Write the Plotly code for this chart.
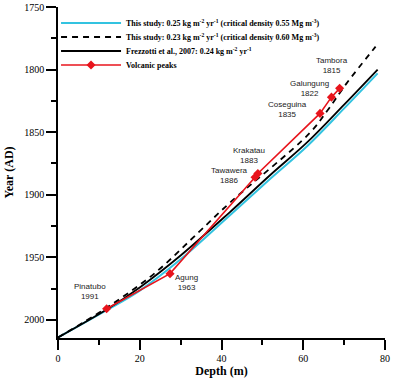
import plotly.graph_objects as go

# Depth (m) vs year (AD) series
cyan_depth = [0, 12, 20, 30, 42, 52, 61, 70, 78.2]
cyan_year = [2014, 1992, 1976.5, 1951.5, 1916.5, 1887, 1861, 1831, 1803]

dash_depth = [0, 12, 23.7, 34.7, 42, 61.6, 66.0, 70.6, 77.7]
dash_year = [2014, 1990, 1962.5, 1929, 1906.5, 1850.6, 1832.3, 1811, 1781.7]

black_depth = [0, 12, 20, 30, 42, 52, 61, 70, 78.2]
black_year = [2014, 1991.5, 1974, 1948.5, 1914, 1884, 1858, 1828, 1800]

volc_names = ["Pinatubo", "Agung", "Tawawera", "Krakatau", "Coseguina", "Galungung", "Tambora"]
volc_years = [1991, 1963, 1886, 1883, 1835, 1822, 1815]
volc_depth = [11.9, 27.4, 48.2, 48.9, 64.1, 66.9, 68.9]

# label anchor (centre-bottom) positions in data units
label_x = [7.8, 31.5, 41.9, 46.7, 56.2, 61.6, 67.0]
label_y = [1985.6, 1978.4, 1893, 1877, 1840.3, 1823.5, 1805]

fig = go.Figure()
fig.add_trace(go.Scatter(x=cyan_depth, y=cyan_year, mode="lines",
    line=dict(color="#33c3e0", width=2, shape="spline"), legend="legend",
    name="<b>This study: 0.25 kg m<sup>-2</sup> yr<sup>-1</sup> (critical density 0.55 Mg m<sup>-3</sup>)</b>"))
fig.add_trace(go.Scatter(x=dash_depth, y=dash_year, mode="lines",
    line=dict(color="black", width=1.8, dash="6px,5px", shape="spline"), legend="legend2",
    name="<b>This study: 0.23 kg m<sup>-2</sup> yr<sup>-1</sup> (critical density 0.60 Mg m<sup>-3</sup>)</b>"))
fig.add_trace(go.Scatter(x=black_depth, y=black_year, mode="lines",
    line=dict(color="black", width=1.8, shape="spline"), legend="legend3",
    name="<b>Frezzotti et al., 2007: 0.24 kg m<sup>-2</sup> yr<sup>-1</sup></b>"))
fig.add_trace(go.Scatter(x=volc_depth, y=volc_years, mode="lines+markers",
    line=dict(color="#e8141c", width=1.6), legend="legend4",
    marker=dict(symbol="diamond", size=7, color="#e8141c"),
    name="<b>Volcanic peaks</b>"))

for n, yr, x, y in zip(volc_names, volc_years, label_x, label_y):
    fig.add_annotation(x=x, y=y, text=f"{n}<br>{yr}", showarrow=False,
        font=dict(family="Liberation Sans, Arial", size=8, color="#222"),
        xanchor="center", yanchor="bottom", borderpad=0)

leg_common = dict(x=-0.006, xanchor="left", yanchor="middle",
    font=dict(family="Liberation Serif, Times New Roman", size=8, color="black"),
    bgcolor="rgba(0,0,0,0)", itemwidth=60, borderwidth=0)
leg_rows = [0.9517, 0.9094, 0.8671, 0.8248]

fig.update_layout(
    width=395, height=382,
    margin=dict(l=58, r=10, t=7, b=44),
    plot_bgcolor="white", paper_bgcolor="white",
    showlegend=True,
    legend=dict(y=leg_rows[0], **leg_common),
    legend2=dict(y=leg_rows[1], **leg_common),
    legend3=dict(y=leg_rows[2], **leg_common),
    legend4=dict(y=leg_rows[3], **leg_common),
    font=dict(family="Liberation Serif, Times New Roman", color="black"),
)
fig.update_xaxes(range=[0, 80], showline=True, linecolor="black", linewidth=1.5,
    showgrid=False, zeroline=False, dtick=20, ticks="outside", ticklen=10, tickwidth=1.5,
    tickcolor="black", tickfont=dict(size=10), automargin=False,
    minor=dict(dtick=10, ticks="outside", ticklen=5, tickwidth=1.5, tickcolor="black"),
    title=dict(text="<b>Depth (m)</b>", font=dict(size=12), standoff=4))
fig.update_yaxes(range=[2014.4, 1750], showline=True, linecolor="black", linewidth=1.5,
    showgrid=False, zeroline=False, dtick=50, ticks="outside", ticklen=10, tickwidth=1.5,
    tickcolor="black", tickfont=dict(size=10), automargin=False,
    minor=dict(dtick=25, ticks="outside", ticklen=5, tickwidth=1.5, tickcolor="black"),
    title=dict(text="<b>Year (AD)</b>", font=dict(size=12), standoff=8))

fig.write_html("out.html", config={"displayModeBar": False},
    post_script="document.body.style.margin='0';document.body.style.overflow='hidden';")
